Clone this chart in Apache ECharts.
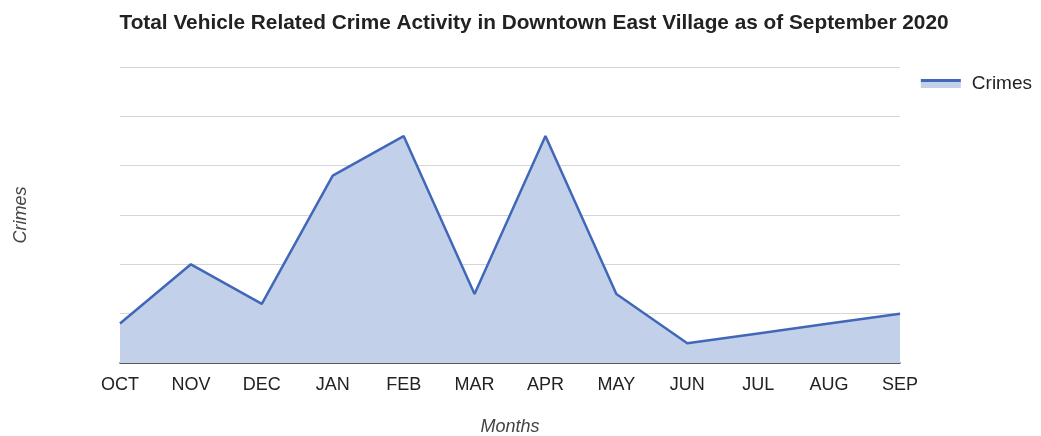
<!DOCTYPE html>
<html><head><meta charset="utf-8">
<script src="https://cdn.jsdelivr.net/npm/echarts@6/dist/echarts.min.js"></script>
<style>html,body{margin:0;padding:0;background:#fff}#c{width:1041px;height:436px}</style>
</head><body><div id="c"></div>
<script>
const categories = ['OCT','NOV','DEC','JAN','FEB','MAR','APR','MAY','JUN','JUL','AUG','SEP'];
const crimes = [4, 10, 6, 19, 23, 7, 23, 7, 2, 3, 4, 5];
const seriesName = 'Crimes';

const lineColor = '#4168b8';
const fillColor = '#c3d0ea';

const chart = echarts.init(document.getElementById('c'));
chart.setOption({
  animation: false,
  title: {
    text: 'Total Vehicle Related Crime Activity in Downtown East Village as of September 2020',
    left: 529, textAlign: 'center', top: 8,
    textStyle: { fontFamily: 'Liberation Sans', fontSize: 20.8, fontWeight: 'bold', color: '#222' }
  },
  legend: {
    data: [seriesName], right: 4, top: 69, itemWidth: 40, itemHeight: 9, itemGap: 6,
    icon: 'rect',
    itemStyle: {
      color: new echarts.graphic.LinearGradient(0, 0, 0, 1, [
        { offset: 0, color: lineColor }, { offset: 0.3, color: lineColor },
        { offset: 0.3, color: fillColor }, { offset: 1, color: fillColor }
      ]),
      borderWidth: 0
    },
    textStyle: { fontFamily: 'Liberation Sans', fontSize: 19, color: '#222', padding: [0, 0, 0, 6] }
  },
  grid: { left: 120, right: 141, top: 67, bottom: 73, containLabel: false, outerBoundsMode: 'none' },
  xAxis: {
    type: 'category', data: categories, boundaryGap: false,
    name: 'Months', nameLocation: 'middle', nameGap: 55,
    nameTextStyle: { fontFamily: 'Liberation Sans', fontSize: 18, fontStyle: 'italic', color: '#444' },
    axisLine: { lineStyle: { color: '#333', width: 1.5 } },
    axisTick: { show: false },
    axisLabel: { fontFamily: 'Liberation Sans', fontSize: 18, color: '#222', margin: 13 }
  },
  yAxis: {
    type: 'value', min: 0, max: 30, interval: 5,
    name: 'Crimes', nameLocation: 'middle', nameGap: 90, nameRotate: 90,
    nameTextStyle: { fontFamily: 'Liberation Sans', fontSize: 18, fontStyle: 'italic', color: '#444' },
    axisLabel: { show: false },
    axisLine: { show: false }, axisTick: { show: false },
    splitLine: { lineStyle: { color: '#d6d6d6', width: 1 } }
  },
  series: [{
    name: seriesName, type: 'line', data: crimes,
    symbol: 'none', color: lineColor,
    lineStyle: { color: lineColor, width: 2.5 },
    areaStyle: { color: fillColor, opacity: 1 }
  }]
});
</script></body></html>
